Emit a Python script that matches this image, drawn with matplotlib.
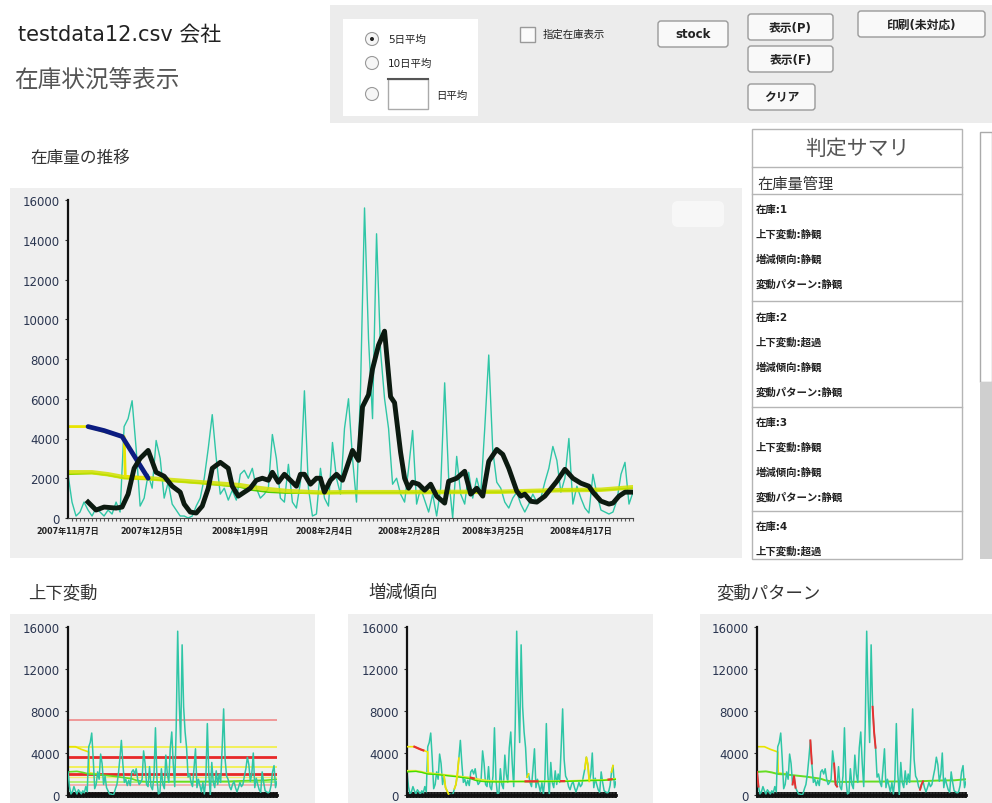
import numpy as np
import matplotlib
matplotlib.use("Agg")
import matplotlib.pyplot as plt
from matplotlib.patches import Rectangle, FancyBboxPatch, Circle

plt.rcParams['font.family'] = ['DejaVu Sans', 'Noto Sans CJK JP']

# 日次の在庫量 (2007/11/7 - 2008/4/末)
stock = [2200, 800, 100, 300, 800, 400, 100, 500, 300, 100,
         400, 200, 800, 300, 4600, 5000, 5900, 3500, 600, 1000,
         2200, 1500, 3900, 3000, 1000, 1800, 700, 400, 100, 100,
         0, 100, 600, 1000, 2000, 3500, 5200, 3000, 1200, 1500,
         900, 1400, 900, 2200, 2400, 2000, 2500, 1500, 1000, 1200,
         1500, 4200, 3000, 1000, 800, 2700, 800, 500, 1800, 6400,
         1500, 100, 200, 2500, 1000, 600, 3800, 2000, 1200, 4500,
         6000, 3000, 800, 6500, 15600, 9000, 5000, 14300, 8400, 6000,
         4500, 1700, 2000, 1200, 800, 2500, 4400, 700, 1500, 900,
         300, 1200, 100, 1500, 6800, 2000, 0, 3100, 1200, 700,
         2300, 1000, 2000, 1200, 4500, 8200, 3400, 1800, 1500, 800,
         500, 1000, 1300, 700, 300, 700, 1200, 800, 1000, 1800,
         2500, 3600, 2900, 1300, 2000, 4000, 700, 1600, 1000, 500,
         250, 2200, 1200, 400, 300, 200, 300, 900, 2200, 2800,
         700, 1300]

# 5日平均 (太線)
ma5_x = [5, 7, 9, 12, 13.5, 15, 16.5, 18, 20, 22,
         24, 26, 28, 29, 30.5, 32, 33.5, 35, 36, 38,
         40, 41, 42.5, 44, 45.5, 47, 48.5, 50, 51, 52.5,
         54, 55.5, 57, 58, 59, 60.5, 62, 63, 64, 65.5,
         67, 68.5, 70, 71, 72.5, 73.5, 75, 76, 77.5, 79,
         80.5, 81.5, 83, 84, 85, 86, 87.5, 89, 90.5, 92,
         94, 95, 97, 99, 100.5, 102, 103.5, 105, 107, 108.5,
         110, 112, 113, 114, 115.5, 117, 119, 121, 122, 124,
         126, 128, 130, 131, 133, 135, 136, 137.5, 139, 141]
ma5_vals = [800, 400, 550, 500, 550, 1200, 2500, 3000, 3400, 2300,
            2100, 1600, 1300, 700, 300, 250, 600, 1500, 2500, 2800,
            2500, 1600, 1100, 1300, 1500, 1900, 2000, 1900, 2300, 1800,
            2200, 1900, 1600, 2200, 2200, 1700, 2000, 2000, 1300, 1900,
            2200, 1900, 2800, 3400, 2900, 5600, 6200, 7500, 8700, 9400,
            6100, 5800, 3300, 2000, 1500, 1800, 1700, 1400, 1700, 1100,
            750, 1850, 2000, 2350, 1200, 1500, 1100, 2850, 3450, 3200,
            2500, 1350, 1100, 1200, 840, 800, 1100, 1600, 1850, 2450,
            2000, 1750, 1600, 1300, 850, 700, 750, 1100, 1300, 1300]

# 長期平均 (黄/緑)
long_x = [0, 6, 10, 14, 20, 33, 43, 46, 50, 55, 63, 70, 83, 108, 123, 133, 141]
long_vals = [2300, 2300, 2200, 2050, 2000, 1800, 1650, 1550, 1450, 1350, 1280, 1300, 1300, 1320, 1400, 1420, 1550]
green_vals = [2200, 2250, 2150, 2000, 1950, 1750, 1550, 1400, 1300, 1250, 1250, 1280, 1280, 1300, 1380, 1400, 1500]

# 上側の黄線と青線
upper_x = [0, 5, 9, 13, 14, 14.3, 20]
upper_vals = [4600, 4600, 4350, 4150, 4100, 2100, 2000]
blue_x = [5, 9, 13.5, 20]
blue_vals = [4600, 4400, 4100, 2000]

date_idx = [0, 21, 43, 64, 85, 106, 128]
date_labels = ['2007年11月7日', '2007年12月5日', '2008年1月9日', '2008年2月4日',
               '2008年2月28日', '2008年3月25日', '2008年4月17日']

# 上下変動の基準線
band_levels = [7100, 4530, 3590, 2660, 2030, 1720, 1250, 940, 0]

# 増減傾向 / 変動パターン の強調区間 (日インデックス)
trend_red = [(5, 11), (43, 45), (80, 88), (104, 106), (136, 138)]
trend_yellow = [(25, 28), (32, 35), (81, 82), (120, 123), (138, 139)]
pattern_red = [(0, 1), (24, 26), (36, 37), (52, 54), (78, 80), (110, 112)]

summary = [('在庫:1', '上下変動:静観', '増減傾向:静観', '変動パターン:静観'),
           ('在庫:2', '上下変動:超過', '増減傾向:静観', '変動パターン:静観'),
           ('在庫:3', '上下変動:静観', '増減傾向:静観', '変動パターン:静観'),
           ('在庫:4', '上下変動:超過')]

W, H = 992, 804
TEAL = '#2fc6a6'
PANEL = '#efefef'
days = np.arange(len(stock))

fig = plt.figure(figsize=(W / 100, H / 100), dpi=100)
fig.patch.set_facecolor('white')

bg = fig.add_axes([0, 0, 1, 1], zorder=-1)
bg.set_xlim(0, W)
bg.set_ylim(H, 0)
bg.axis('off')


def rect(x0, y0, x1, y1, fc, ec='none', lw=1):
    bg.add_patch(Rectangle((x0, y0), x1 - x0, y1 - y0, fc=fc, ec=ec, lw=lw))


def button(x0, y0, x1, y1, label):
    bg.add_patch(FancyBboxPatch((x0, y0), x1 - x0, y1 - y0,
                                boxstyle='round,pad=0,rounding_size=3',
                                fc='#f9f9f9', ec='#9a9a9a', lw=1))
    bg.text((x0 + x1) / 2, (y0 + y1) / 2, label, ha='center', va='center',
            fontsize=8.5, fontweight='bold', color='#222')


# ヘッダ
bg.text(18, 35, 'testdata12.csv 会社', fontsize=15, color='#222', va='center')
bg.text(14, 80, '在庫状況等表示', fontsize=17, color='#555', va='center')

# 操作パネル
rect(330, 6, 992, 124, '#ececec')
rect(343, 20, 478, 117, 'white')
for cy, lab in [(40, '5日平均'), (64, '10日平均'), (95, '')]:
    bg.add_patch(Circle((372, cy), 6.5, fc='#f6f6f6', ec='#999', lw=0.8))
    if lab:
        bg.text(388, cy, lab, fontsize=7.5, va='center', color='#222')
bg.add_patch(Circle((372, 40), 2, fc='#222', ec='none'))
rect(388, 80, 428, 110, 'white', '#aaa')
bg.plot([388, 428], [80, 80], color='#555', lw=1.5)
bg.text(436, 96, '日平均', fontsize=7.5, va='center', color='#222')
rect(520, 28, 535, 43, '#fafafa', '#999')
bg.text(543, 35, '指定在庫表示', fontsize=7.5, va='center', color='#222')
button(658, 22, 728, 48, 'stock')
button(748, 15, 833, 41, '表示(P)')
button(748, 47, 833, 73, '表示(F)')
button(748, 85, 815, 111, 'クリア')
button(858, 12, 985, 38, '印刷(未対応)')

# メインチャート
bg.text(30, 158, '在庫量の推移', fontsize=12, color='#333', va='center')
rect(10, 189, 742, 559, PANEL)
bg.add_patch(FancyBboxPatch((672, 202), 52, 26, boxstyle='round,pad=0,rounding_size=6',
                            fc='white', ec='none', alpha=0.55))

# 判定サマリ
rect(752, 130, 962, 560, 'white', '#b5b5b5')
for yy in [168, 195, 302, 408, 512]:
    bg.plot([752, 962], [yy, yy], color='#b5b5b5', lw=1)
bg.text(857, 149, '判定サマリ', fontsize=15, color='#555', ha='center', va='center')
bg.text(757, 184, '在庫量管理', fontsize=11, color='#333', va='center')
block_top = [210, 318, 423, 527]
for top, rows in zip(block_top, summary):
    for k, txt in enumerate(rows):
        bg.text(756, top + k * 25, txt, fontsize=7.5, fontweight='bold',
                color='#222', va='center')
rect(980, 133, 992, 383, 'white', '#aaa')
rect(980, 383, 992, 560, '#cfcfcf')

# 下段パネル
rect(10, 615, 315, 804, PANEL)
rect(348, 615, 653, 804, PANEL)
rect(700, 615, 992, 804, PANEL)
bg.text(28, 593, '上下変動', fontsize=12.5, color='#333', va='center')
bg.text(368, 593, '増減傾向', fontsize=12.5, color='#333', va='center')
bg.text(716, 593, '変動パターン', fontsize=12.5, color='#333', va='center')


def style_axis(ax, yticks, label_fs):
    ax.set_facecolor('none')
    ax.set_xlim(0, len(stock) - 1)
    ax.set_ylim(0, 16000)
    for s in ['top', 'right']:
        ax.spines[s].set_visible(False)
    ax.spines['left'].set_color('#111')
    ax.spines['left'].set_linewidth(1.6)
    ax.spines['bottom'].set_color('#444')
    ax.set_yticks(yticks)
    ax.tick_params(axis='y', length=2, color='#333', labelsize=label_fs,
                   labelcolor='#2a3550', pad=4)
    ax.set_xticks(days, minor=True)


ax = fig.add_axes([68 / W, 1 - 519 / H, 565 / W, 318 / H])
style_axis(ax, np.arange(0, 16001, 2000), 8.5)
ax.set_xticks(date_idx)
ax.set_xticklabels(date_labels, fontsize=5.8, color='#222', fontweight='bold')
ax.tick_params(axis='x', which='major', length=0, pad=6)
ax.tick_params(axis='x', which='minor', length=2.5, color='#555', width=0.8)
ax.plot(days, stock, color=TEAL, lw=1.0)
ax.plot(long_x, green_vals, color='#55cc00', lw=1.2)
ax.plot(long_x, long_vals, color='#d2e200', lw=3.2, alpha=0.85)
ax.plot(upper_x, upper_vals, color='#e8e400', lw=2)
ax.plot(blue_x, blue_vals, color='#0b1c80', lw=3.4, solid_capstyle='round')
ax.plot(ma5_x, ma5_vals, color='#0c1a10', lw=3.5, solid_joinstyle='round')

band_colors = ['#f08a8a', '#f2f040', '#e82828', '#f2f040', '#e82828',
               '#f2ee70', '#a8ee60', '#f4a8a8', '#5a0000']
band_widths = [1.2, 1.2, 2, 1.2, 2, 1, 1.2, 1.2, 3]

mini_left = [68, 407, 757]
minis = []
for left in mini_left:
    m = fig.add_axes([left / W, 1 - 796 / H, 209 / W, 168 / H])
    style_axis(m, [0, 4000, 8000, 12000, 16000], 8.5)
    m.set_xticks([])
    m.set_xticks(days, minor=True)
    m.tick_params(axis='x', which='minor', length=4, width=1.3, color='#111',
                  direction='inout')
    m.spines['bottom'].set_color('#111')
    m.spines['bottom'].set_linewidth(2)
    minis.append(m)

# 上下変動
m1 = minis[0]
for lev, c, w in zip(band_levels, band_colors, band_widths):
    m1.axhline(lev, color=c, lw=w, zorder=1)
m1.plot(upper_x, upper_vals, color='#e8e400', lw=1.2, zorder=2)
m1.plot(long_x, green_vals, color='#66dd22', lw=1.2, zorder=2)
m1.plot(days, stock, color=TEAL, lw=1.1, zorder=3)

# 増減傾向
m2 = minis[1]
m2.plot(days, stock, color=TEAL, lw=1.1, zorder=2)
m2.plot(upper_x, upper_vals, color='#f0ea00', lw=1.2, zorder=3)
m2.plot(long_x, long_vals, color='#e0ea30', lw=1.4, zorder=3)
m2.plot(long_x, green_vals, color='#44dd00', lw=1.0, zorder=3)
for a, b in trend_yellow:
    m2.plot(days[a:b + 1], stock[a:b + 1], color='#f0e000', lw=1.3, zorder=4)
for a, b in trend_red:
    xs = np.linspace(a, b, 5)
    if a < 15:
        ys = np.interp(xs, upper_x, upper_vals)
    else:
        ys = np.interp(xs, long_x, long_vals)
    m2.plot(xs, ys, color='#e83030', lw=1.6, zorder=5)

# 変動パターン
m3 = minis[2]
m3.plot(upper_x, upper_vals, color='#e8e400', lw=1.2, zorder=2)
m3.plot(long_x, green_vals, color='#66dd22', lw=1.4, zorder=2)
m3.plot(days, stock, color=TEAL, lw=1.1, zorder=3)
for a, b in pattern_red:
    m3.plot(days[a:b + 1], stock[a:b + 1], color='#e83030', lw=1.4, zorder=4)

fig.savefig('out.png', dpi=100, facecolor='white')
